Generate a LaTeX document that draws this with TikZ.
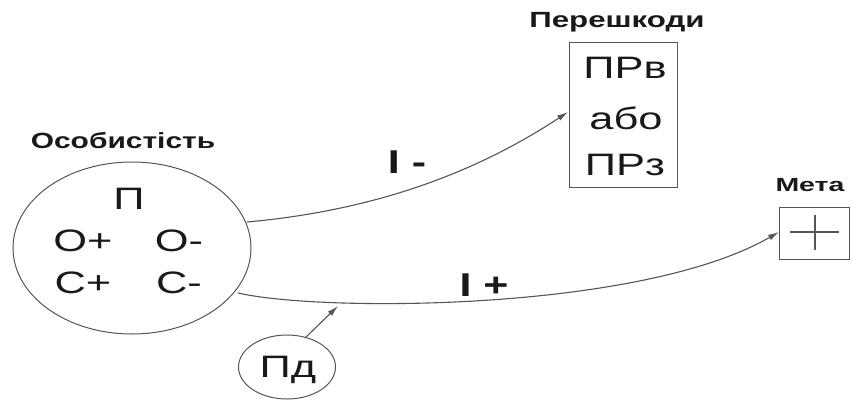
\documentclass[tikz,border=0pt]{standalone}
\usepackage{fontspec}
\setmainfont{Liberation Sans}
\usetikzlibrary{shapes.geometric,arrows.meta}
\definecolor{linec}{RGB}{85,85,85}
\definecolor{textc}{RGB}{25,25,25}
\newcommand{\sxt}[1]{\scalebox{1.4}[1]{\fontsize{31}{32}\selectfont #1}}
\newcommand{\ttl}[2]{\scalebox{#1}[1]{\fontsize{22}{23}\selectfont\bfseries #2}}
\begin{document}
\begin{tikzpicture}[x=1pt,y=-1pt,
  outl/.style={draw=linec,line width=1pt},
  txt/.style={inner sep=0pt,text=textc},
  conn/.style={draw=linec,line width=1.1pt,-{Latex[length=11pt,width=6pt]}},
  lbl/.style={inner sep=0pt,text=textc}]
\useasboundingbox (0,0) rectangle (853,401);
% Personality
\node[ellipse,outl,minimum width=238pt,minimum height=172pt,inner sep=0pt] (os) at (132,248) {};
\node[txt] (ostitle) at (123,141) {\ttl{1.36}{Особистість}};
\node[txt] (p) at (129,199) {\sxt{П}};
\node[txt] (op) at (83,241) {\sxt{О+}};
\node[txt] (om) at (179,241) {\sxt{О-}};
\node[txt] (cp) at (83,283) {\sxt{С+}};
\node[txt] (cm) at (179,283) {\sxt{С-}};
% Obstacles
\node[outl,minimum width=108pt,minimum height=144pt,inner sep=0pt] (box) at (623,115) {};
\node[txt] (boxtitle) at (617,22) {\ttl{1.42}{Перешкоди}};
\node[txt] (prv) at (625,68) {\sxt{ПРв}};
\node[txt] (abo) at (626,118) {\sxt{або}};
\node[txt] (prz) at (625,165) {\sxt{ПРз}};
% Goal
\node[outl,minimum width=70pt,minimum height=52pt,inner sep=0pt] (meta) at (814,233) {};
\node[txt] (metatitle) at (810,185) {\scalebox{1.5}[1]{\fontsize{19}{20}\selectfont\bfseries Мета}};
\coordinate (pl) at (790,232); \coordinate (pr) at (839,232);
\coordinate (pt) at (815,215); \coordinate (pb) at (815,250);
\draw[linec,line width=1.3pt] (pl) -- (pr) (pt) -- (pb);
% Pd
\node[ellipse,outl,minimum width=97pt,minimum height=64pt,inner sep=0pt] (pd) at (287,367) {};
\node[txt] (pdt) at (288,370) {\sxt{Пд}};
% connectors
\coordinate (s1) at (247,222);
\coordinate (e1) at (568,112);
\draw[conn] (s1) .. controls (380,210) and (480,170) .. (e1);
\coordinate (s2) at (238,293);
\coordinate (e2) at (779,232);
\draw[conn] (s2) .. controls (320,312) and (640,312) .. (e2);
\coordinate (pdtop) at (305,338);
\coordinate (pdend) at (338,306);
\draw[conn] (pdtop) -- (pdend);
% labels
\node[lbl] (lm) at (407,162) {\scalebox{1.3}[1]{\fontsize{33}{34}\selectfont\bfseries I -}};
\node[lbl] (lp) at (484,285) {\scalebox{1.3}[1]{\fontsize{33}{34}\selectfont\bfseries I +}};
\end{tikzpicture}
\end{document}
